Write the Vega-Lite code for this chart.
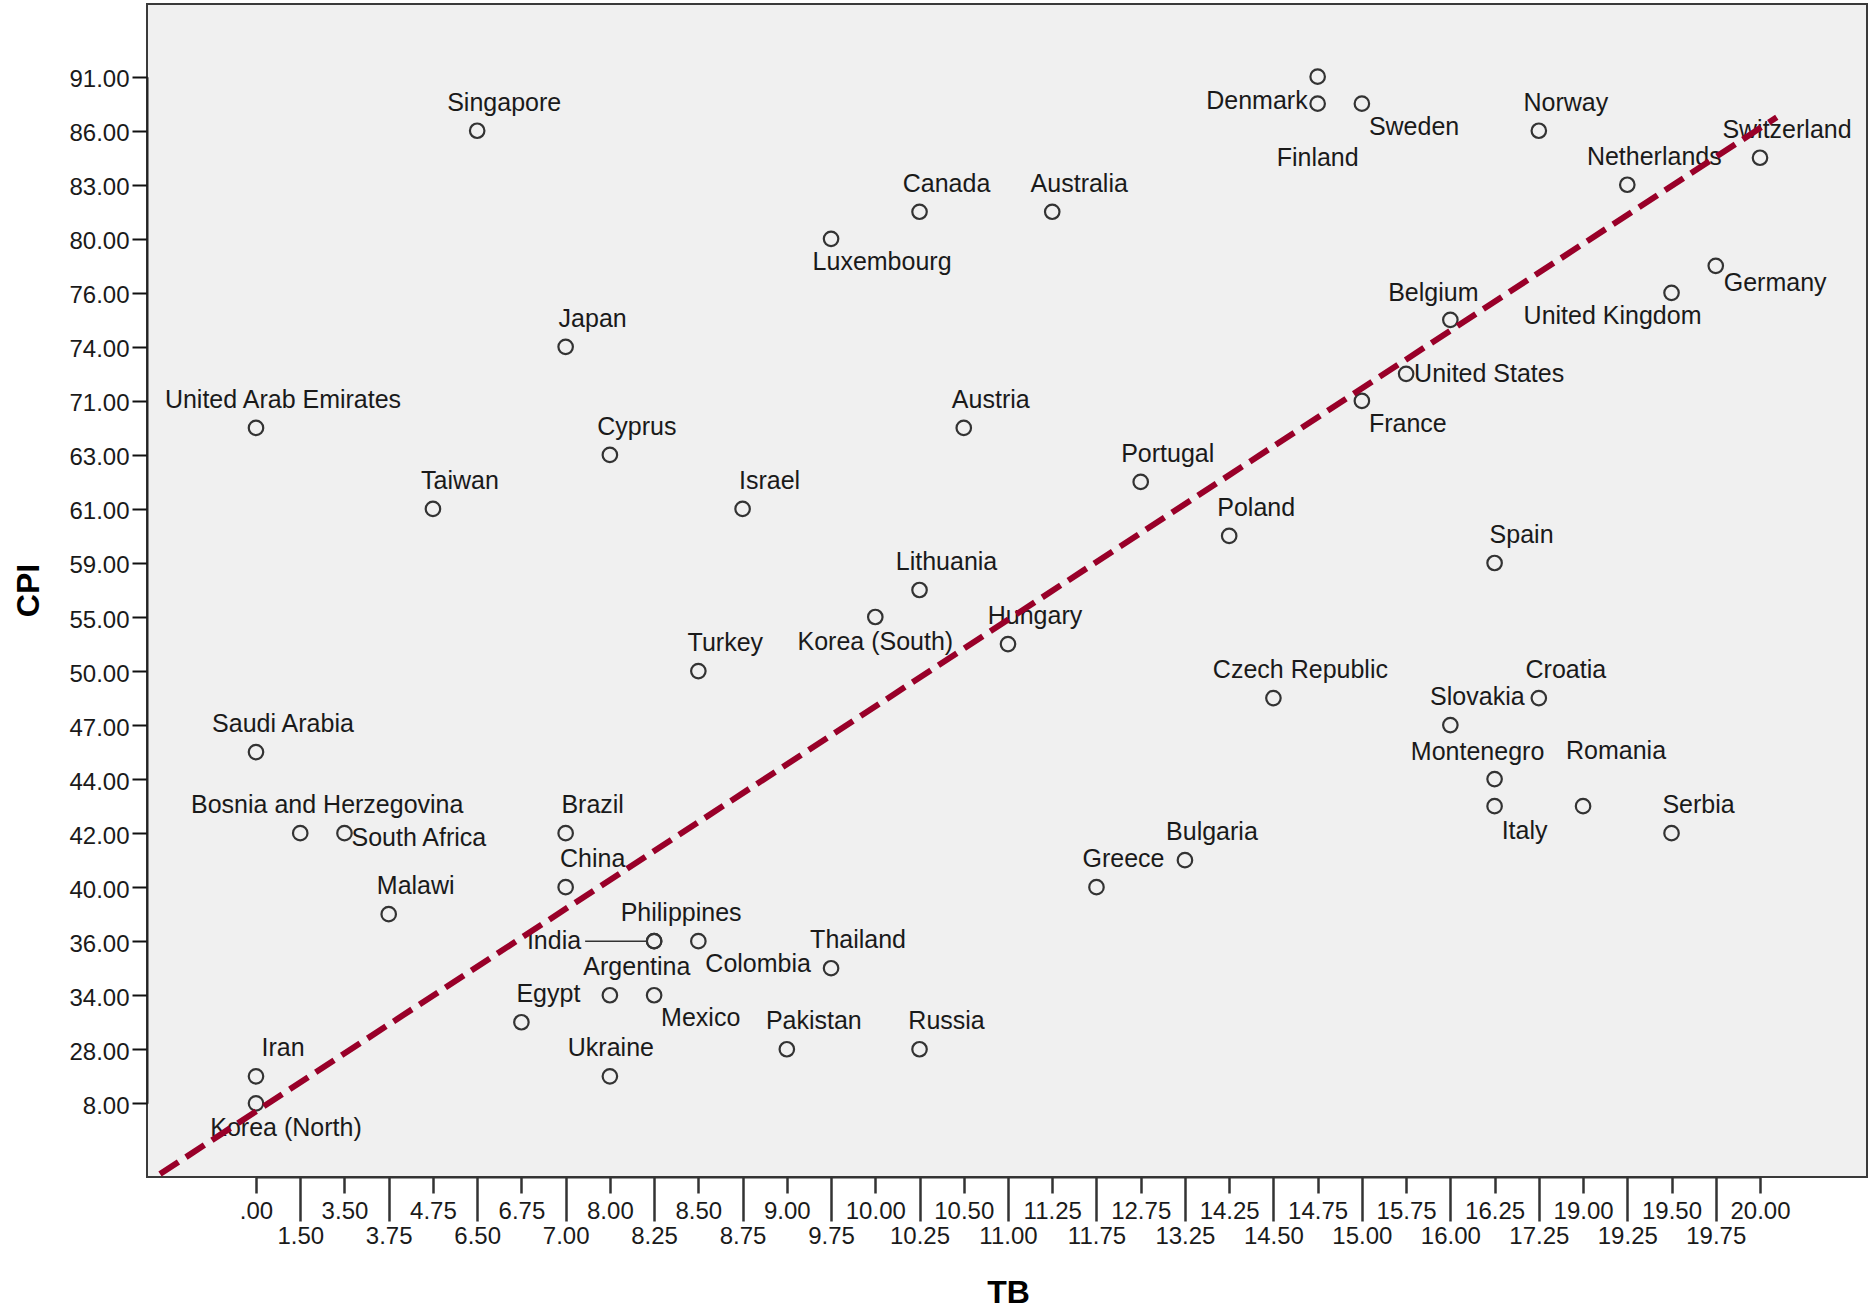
{
  "$schema": "https://vega.github.io/schema/vega-lite/v6.json",
  "width": 1720,
  "height": 1173,
  "autosize": "none",
  "padding": {"left": 147, "top": 4, "right": 1, "bottom": 131},
  "background": "white",
  "config": {
    "view": {"fill": "#f0f0f0", "stroke": "#3a3a3a", "strokeWidth": 2},
    "font": "Liberation Sans"
  },
  "data": {
    "values": [
      {"country": "Denmark", "tb": 14.75, "cpi": 91},
      {"country": "Finland", "tb": 14.75, "cpi": 89},
      {"country": "Sweden", "tb": 15, "cpi": 89},
      {"country": "Singapore", "tb": 6.5, "cpi": 86},
      {"country": "Norway", "tb": 17.25, "cpi": 86},
      {"country": "Switzerland", "tb": 20, "cpi": 85},
      {"country": "Netherlands", "tb": 19.25, "cpi": 83},
      {"country": "Canada", "tb": 10.25, "cpi": 81},
      {"country": "Australia", "tb": 11.25, "cpi": 81},
      {"country": "Luxembourg", "tb": 9.75, "cpi": 80},
      {"country": "Germany", "tb": 19.75, "cpi": 78},
      {"country": "United Kingdom", "tb": 19.5, "cpi": 76},
      {"country": "Belgium", "tb": 16, "cpi": 75},
      {"country": "Japan", "tb": 7, "cpi": 74},
      {"country": "United States", "tb": 15.75, "cpi": 73},
      {"country": "France", "tb": 15, "cpi": 71},
      {"country": "United Arab Emirates", "tb": 0, "cpi": 69},
      {"country": "Austria", "tb": 10.5, "cpi": 69},
      {"country": "Cyprus", "tb": 8, "cpi": 63},
      {"country": "Portugal", "tb": 12.75, "cpi": 62},
      {"country": "Taiwan", "tb": 4.75, "cpi": 61},
      {"country": "Israel", "tb": 8.75, "cpi": 61},
      {"country": "Poland", "tb": 14.25, "cpi": 60},
      {"country": "Spain", "tb": 16.25, "cpi": 59},
      {"country": "Lithuania", "tb": 10.25, "cpi": 57},
      {"country": "Korea (South)", "tb": 10, "cpi": 55},
      {"country": "Hungary", "tb": 11, "cpi": 54},
      {"country": "Turkey", "tb": 8.5, "cpi": 50},
      {"country": "Czech Republic", "tb": 14.5, "cpi": 48},
      {"country": "Croatia", "tb": 17.25, "cpi": 48},
      {"country": "Slovakia", "tb": 16, "cpi": 47},
      {"country": "Saudi Arabia", "tb": 0, "cpi": 46},
      {"country": "Montenegro", "tb": 16.25, "cpi": 44},
      {"country": "Italy", "tb": 16.25, "cpi": 43},
      {"country": "Romania", "tb": 19, "cpi": 43},
      {"country": "Bosnia and Herzegovina", "tb": 1.5, "cpi": 42},
      {"country": "South Africa", "tb": 3.5, "cpi": 42},
      {"country": "Brazil", "tb": 7, "cpi": 42},
      {"country": "Serbia", "tb": 19.5, "cpi": 42},
      {"country": "Bulgaria", "tb": 13.25, "cpi": 41},
      {"country": "China", "tb": 7, "cpi": 40},
      {"country": "Greece", "tb": 11.75, "cpi": 40},
      {"country": "Malawi", "tb": 3.75, "cpi": 37},
      {"country": "India", "tb": 8.25, "cpi": 36},
      {"country": "Philippines", "tb": 8.25, "cpi": 36},
      {"country": "Colombia", "tb": 8.5, "cpi": 36},
      {"country": "Thailand", "tb": 9.75, "cpi": 35},
      {"country": "Argentina", "tb": 8, "cpi": 34},
      {"country": "Mexico", "tb": 8.25, "cpi": 34},
      {"country": "Egypt", "tb": 6.75, "cpi": 32},
      {"country": "Pakistan", "tb": 9, "cpi": 28},
      {"country": "Russia", "tb": 10.25, "cpi": 28},
      {"country": "Iran", "tb": 0, "cpi": 25},
      {"country": "Ukraine", "tb": 8, "cpi": 25},
      {"country": "Korea (North)", "tb": 0, "cpi": 8}
    ]
  },
  "layer": [
    {
      "encoding": {
        "x": {
          "field": "tb", "type": "ordinal",
          "scale": {"type": "point", "padding": 0, "range": [109, 1613], "domain": [0, 1.5, 3.5, 3.75, 4.75, 6.5, 6.75, 7, 8, 8.25, 8.5, 8.75, 9, 9.75, 10, 10.25, 10.5, 11, 11.25, 11.75, 12.75, 13.25, 14.25, 14.5, 14.75, 15, 15.75, 16, 16.25, 17.25, 19, 19.25, 19.5, 19.75, 20]},
          "axis": {
            "title": "TB", "titleFont": "Liberation Sans", "titleFontSize": 32, "titleFontWeight": "bold", "titleColor": "#000000",
            "titleY": 125, "titleBaseline": "alphabetic",
            "labelExpr": "datum.value == 0 ? '.00' : format(datum.value, '.2f')",
            "labelFont": "Liberation Sans", "labelFontSize": 24, "labelColor": "#1a1a1a", "labelAngle": 0,
            "labelOverlap": false, "labelBaseline": "top",
            "tickColor": "#333333", "tickWidth": 2.5,
            "tickSize": {"condition": {"test": "indexof([1.5,3.75,6.5,7,8.25,8.75,9.75,10.25,11,11.75,13.25,14.5,15,16,17.25,19.25,19.75], datum.value) >= 0", "value": 44}, "value": 16},
            "labelPadding": {"condition": {"test": "indexof([1.5,3.75,6.5,7,8.25,8.75,9.75,10.25,11,11.75,13.25,14.5,15,16,17.25,19.25,19.75], datum.value) >= 0", "value": 3}, "value": 6},
            "domainColor": "#333333", "domainWidth": 2, "grid": false
          }
        },
        "y": {
          "field": "cpi", "type": "ordinal",
          "scale": {"type": "point", "padding": 0, "range": [72.7, 1099.3], "domain": [91, 89, 86, 85, 83, 81, 80, 78, 76, 75, 74, 73, 71, 69, 63, 62, 61, 60, 59, 57, 55, 54, 50, 48, 47, 46, 44, 43, 42, 41, 40, 37, 36, 35, 34, 32, 28, 25, 8]},
          "axis": {
            "title": "CPI", "titleFont": "Liberation Sans", "titleFontSize": 32, "titleFontWeight": "bold", "titleColor": "#000000",
            "titleX": -119, "titleY": 586, "titleBaseline": "middle", "titleAngle": -90, "titleAlign": "center",
            "values": [91, 86, 83, 80, 76, 74, 71, 63, 61, 59, 55, 50, 47, 44, 42, 40, 36, 34, 28, 8],
            "labelExpr": "format(datum.value, '.2f')",
            "labelFont": "Liberation Sans", "labelFontSize": 24, "labelColor": "#1a1a1a",
            "labelOffset": 3, "labelPadding": 3,
            "tickColor": "#111111", "tickWidth": 2, "tickSize": 15,
            "domainColor": "#222222", "domainWidth": 2, "grid": false
          }
        }
      },
      "layer": [
        {
          "mark": {"type": "point", "shape": "circle", "filled": false, "stroke": "#333333", "strokeWidth": 2.2, "size": 210, "opacity": 1}
        },
        {
          "transform": [{"filter": "indexof(['Ukraine','Montenegro','Belgium','Romania','Italy','Korea (North)','Korea (South)','Finland','Sweden','France','Mexico','Colombia','Luxembourg','United Kingdom','United States','South Africa','Germany','Denmark','India'], datum.country) < 0"}],
          "mark": {"type": "text", "font": "Liberation Sans", "fontSize": 25, "color": "#1a1a1a", "align": "center", "baseline": "middle", "dx": 27, "dy": -28},
          "encoding": {"text": {"field": "country"}}
        },
        {
          "transform": [{"filter": "datum.country == 'Ukraine'"}],
          "mark": {"type": "text", "font": "Liberation Sans", "fontSize": 25, "color": "#1a1a1a", "align": "center", "baseline": "middle", "dx": 1, "dy": -28},
          "encoding": {"text": {"field": "country"}}
        },
        {
          "transform": [{"filter": "indexof(['Montenegro','Belgium'], datum.country) >= 0"}],
          "mark": {"type": "text", "font": "Liberation Sans", "fontSize": 25, "color": "#1a1a1a", "align": "center", "baseline": "middle", "dx": -17, "dy": -27},
          "encoding": {"text": {"field": "country"}}
        },
        {
          "transform": [{"filter": "datum.country == 'Romania'"}],
          "mark": {"type": "text", "font": "Liberation Sans", "fontSize": 25, "color": "#1a1a1a", "align": "center", "baseline": "middle", "dx": 33, "dy": -55},
          "encoding": {"text": {"field": "country"}}
        },
        {
          "transform": [{"filter": "indexof(['Italy','Korea (North)'], datum.country) >= 0"}],
          "mark": {"type": "text", "font": "Liberation Sans", "fontSize": 25, "color": "#1a1a1a", "align": "center", "baseline": "middle", "dx": 30, "dy": 25},
          "encoding": {"text": {"field": "country"}}
        },
        {
          "transform": [{"filter": "datum.country == 'Korea (South)'"}],
          "mark": {"type": "text", "font": "Liberation Sans", "fontSize": 25, "color": "#1a1a1a", "align": "center", "baseline": "middle", "dx": 0, "dy": 25},
          "encoding": {"text": {"field": "country"}}
        },
        {
          "transform": [{"filter": "datum.country == 'Finland'"}],
          "mark": {"type": "text", "font": "Liberation Sans", "fontSize": 25, "color": "#1a1a1a", "align": "center", "baseline": "middle", "dx": 0, "dy": 54},
          "encoding": {"text": {"field": "country"}}
        },
        {
          "transform": [{"filter": "indexof(['Sweden','France','Mexico','Colombia'], datum.country) >= 0"}],
          "mark": {"type": "text", "font": "Liberation Sans", "fontSize": 25, "color": "#1a1a1a", "align": "left", "baseline": "middle", "dx": 7, "dy": 23},
          "encoding": {"text": {"field": "country"}}
        },
        {
          "transform": [{"filter": "datum.country == 'Luxembourg'"}],
          "mark": {"type": "text", "font": "Liberation Sans", "fontSize": 25, "color": "#1a1a1a", "align": "center", "baseline": "middle", "dx": 51, "dy": 23},
          "encoding": {"text": {"field": "country"}}
        },
        {
          "transform": [{"filter": "datum.country == 'United Kingdom'"}],
          "mark": {"type": "text", "font": "Liberation Sans", "fontSize": 25, "color": "#1a1a1a", "align": "center", "baseline": "middle", "dx": -59, "dy": 23},
          "encoding": {"text": {"field": "country"}}
        },
        {
          "transform": [{"filter": "datum.country == 'United States'"}],
          "mark": {"type": "text", "font": "Liberation Sans", "fontSize": 25, "color": "#1a1a1a", "align": "left", "baseline": "middle", "dx": 8, "dy": 0},
          "encoding": {"text": {"field": "country"}}
        },
        {
          "transform": [{"filter": "datum.country == 'South Africa'"}],
          "mark": {"type": "text", "font": "Liberation Sans", "fontSize": 25, "color": "#1a1a1a", "align": "left", "baseline": "middle", "dx": 7, "dy": 5},
          "encoding": {"text": {"field": "country"}}
        },
        {
          "transform": [{"filter": "datum.country == 'Germany'"}],
          "mark": {"type": "text", "font": "Liberation Sans", "fontSize": 25, "color": "#1a1a1a", "align": "left", "baseline": "middle", "dx": 8, "dy": 17},
          "encoding": {"text": {"field": "country"}}
        },
        {
          "transform": [{"filter": "datum.country == 'Denmark'"}],
          "mark": {"type": "text", "font": "Liberation Sans", "fontSize": 25, "color": "#1a1a1a", "align": "right", "baseline": "middle", "dx": -10, "dy": 24},
          "encoding": {"text": {"field": "country"}}
        },
        {
          "transform": [{"filter": "datum.country == 'India'"}],
          "mark": {"type": "text", "font": "Liberation Sans", "fontSize": 25, "color": "#1a1a1a", "align": "right", "baseline": "middle", "dx": -73, "dy": 0},
          "encoding": {"text": {"field": "country"}}
        },
        {
          "transform": [{"filter": "datum.country == 'India'"}],
          "mark": {"type": "rule", "color": "#333333", "strokeWidth": 1.5, "xOffset": -69, "x2Offset": -8},
          "encoding": {"x2": {"field": "tb"}}
        }
      ]
    },
    {
      "data": {"values": [{"tbPos": -2.17, "cpiPos": -2.62}, {"tbPos": 34.38, "cpiPos": 36.5}]},
      "mark": {"type": "line", "color": "#990029", "strokeWidth": 6, "strokeDash": [22, 9], "clip": true},
      "encoding": {
        "x": {"field": "tbPos", "type": "quantitative", "scale": {"domain": [-2.464, 36.42], "nice": false, "zero": false}, "axis": null},
        "y": {"field": "cpiPos", "type": "quantitative", "scale": {"domain": [-2.728, 40.69], "nice": false, "zero": false}, "axis": null}
      }
    }
  ],
  "resolve": {"scale": {"x": "independent", "y": "independent"}, "axis": {"x": "independent", "y": "independent"}}
}
